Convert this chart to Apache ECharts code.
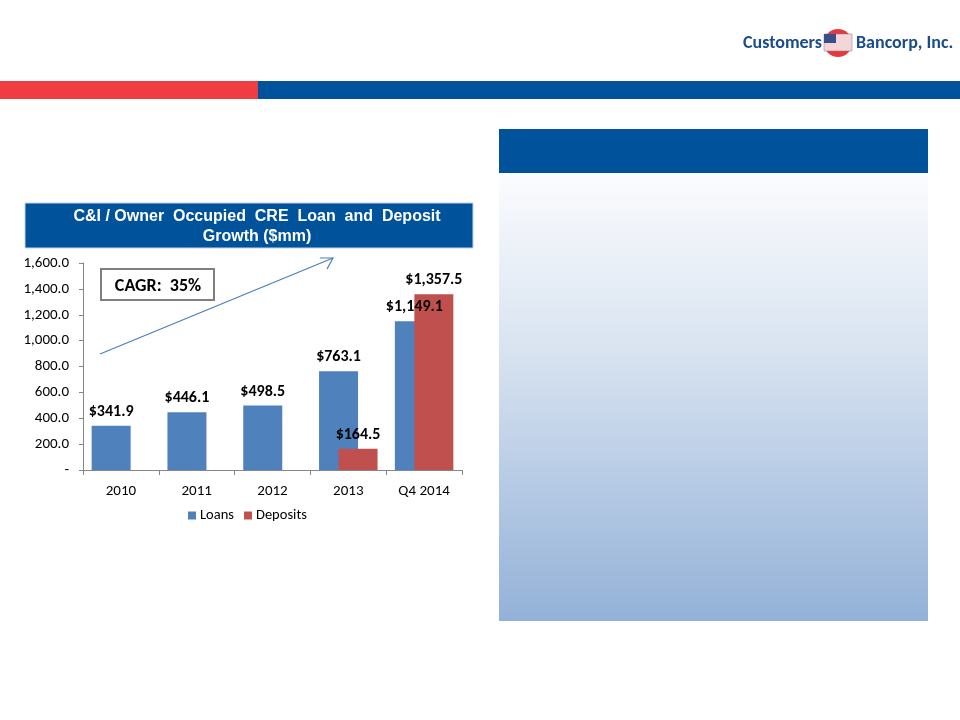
<!DOCTYPE html>
<html>
<head>
<meta charset="utf-8">
<script src="https://cdn.jsdelivr.net/npm/echarts@6/dist/echarts.min.js"></script>
<style>
  html, body {margin: 0; padding: 0; background: #fff;}
  #chart {width: 960px; height: 720px;}
</style>
</head>
<body>
<div id="chart"></div>
<script>
const categories = ['2010', '2011', '2012', '2013', 'Q4 2014'];
const loans = [341.9, 446.1, 498.5, 763.1, 1149.1];
const deposits = [null, null, null, 164.5, 1357.5];
const y_ticks = [0, 200, 400, 600, 800, 1000, 1200, 1400, 1600];

const BLUE = '#00539b';
const FONT = 'Liberation Sans, Arial, sans-serif';
const CAL = 'Carlito, Lato, "Open Sans", sans-serif';

function money(v) {
    return '$' + v.toLocaleString('en-US', {minimumFractionDigits: 1, maximumFractionDigits: 1});
}

function build_option() {
    return {
        animation: false,
        grid: {left: 83, right: 498, top: 263, bottom: 250, containLabel: false},
        legend: {
            data: ['Loans', 'Deposits'],
            left: 183, top: 503,
            itemWidth: 8, itemHeight: 8, itemGap: 10, icon: 'rect',
            textStyle: {fontFamily: CAL, fontSize: 14.5, color: '#000', padding: [0, 0, 0, -1]}
        },
        xAxis: {
            type: 'category',
            data: categories,
            axisLine: {lineStyle: {color: '#868686'}},
            axisTick: {show: true, length: 5, lineStyle: {color: '#868686'}},
            axisLabel: {fontFamily: CAL, fontSize: 15, color: '#000', margin: 14}
        },
        yAxis: {
            type: 'value',
            min: 0, max: 1600, interval: 200,
            axisLine: {show: true, lineStyle: {color: '#868686'}},
            axisTick: {show: true, length: 4, inside: false, lineStyle: {color: '#868686'}},
            splitLine: {show: false},
            axisLabel: {
                fontFamily: CAL, fontSize: 15, color: '#000', margin: 14,
                formatter: v => v === 0 ? '-' : v.toLocaleString('en-US', {minimumFractionDigits: 1})
            }
        },
        series: [
            {
                name: 'Loans', type: 'bar', data: loans,
                barWidth: 39, barGap: '-50%',
                itemStyle: {color: '#4f81bd'},
                label: {show: true, position: 'top', distance: 6, formatter: p => money(p.value),
                    fontFamily: CAL, fontWeight: 'bold', fontSize: 16, color: '#000'}
            },
            {
                name: 'Deposits', type: 'bar', data: deposits,
                barWidth: 39,
                itemStyle: {color: '#c0504d'},
                label: {show: true, position: 'top', distance: 6, formatter: p => money(p.value),
                    fontFamily: CAL, fontWeight: 'bold', fontSize: 16, color: '#000'}
            }
        ],
        graphic: [
            // header stripes
            {type: 'rect', shape: {x: 0, y: 81, width: 258, height: 18}, style: {fill: '#ef3e42'}},
            {type: 'rect', shape: {x: 258, y: 81, width: 702, height: 18}, style: {fill: BLUE}},
            // logo
            {type: 'text', style: {x: 743, y: 43, text: 'Customers', fill: '#1a4c8b', font: 'bold 18px ' + CAL, textVerticalAlign: 'middle'}},
            {type: 'circle', shape: {cx: 838, cy: 43, r: 14}, style: {fill: '#e8383d'}},
            {type: 'rect', shape: {x: 824, y: 34, width: 28, height: 17}, style: {fill: '#f4d6d6', stroke: '#7a7a9a', lineWidth: 0.5}},
            {type: 'rect', shape: {x: 824, y: 34, width: 12, height: 9}, style: {fill: '#3a4f8a'}},
            {type: 'text', style: {x: 856, y: 43, text: 'Bancorp, Inc.', fill: '#1a4c8b', font: 'bold 18px ' + CAL, textVerticalAlign: 'middle'}},
            // right panel
            {type: 'rect', shape: {x: 499, y: 129, width: 429, height: 44}, style: {fill: BLUE}},
            {type: 'rect', shape: {x: 499, y: 173, width: 429, height: 448}, style: {
                fill: {type: 'linear', x: 0, y: 0, x2: 0, y2: 1, colorStops: [
                    {offset: 0, color: '#fbfcfe'}, {offset: 0.4, color: '#d8e3f0'}, {offset: 1, color: '#93b1d8'}
                ]}
            }},
            // chart title box
            {type: 'rect', shape: {x: 25, y: 203, width: 448, height: 45}, style: {fill: BLUE, stroke: '#c6d4e8', lineWidth: 1}},
            {type: 'text', style: {x: 257, y: 217, text: 'C&I / Owner  Occupied  CRE  Loan  and  Deposit', fill: '#fff',
                font: 'bold 16px ' + FONT, textAlign: 'center', textVerticalAlign: 'middle'}},
            {type: 'text', style: {x: 257, y: 237, text: 'Growth ($mm)', fill: '#fff',
                font: 'bold 16px ' + FONT, textAlign: 'center', textVerticalAlign: 'middle'}},
            // CAGR box
            {type: 'rect', shape: {x: 101, y: 269, width: 113, height: 31}, style: {fill: '#fff', stroke: '#7f7f7f', lineWidth: 2}},
            {type: 'text', style: {x: 158, y: 286, text: 'CAGR:  35%', fill: '#000', font: 'bold 18px ' + CAL,
                textAlign: 'center', textVerticalAlign: 'middle'}},
            // arrow
            {type: 'line', shape: {x1: 100, y1: 354, x2: 333, y2: 258}, style: {stroke: '#4a7ebb', lineWidth: 1.2}},
            {type: 'polyline', shape: {points: [[320, 258], [333, 258], [327, 269]]}, style: {stroke: '#4a7ebb', lineWidth: 1.2, fill: null}}
        ]
    };
}

let chart = echarts.init(document.getElementById('chart'), null, {renderer: 'canvas'});
chart.setOption(build_option());
window.addEventListener('resize', function () {
    chart.resize();
});
</script>
</body>
</html>
